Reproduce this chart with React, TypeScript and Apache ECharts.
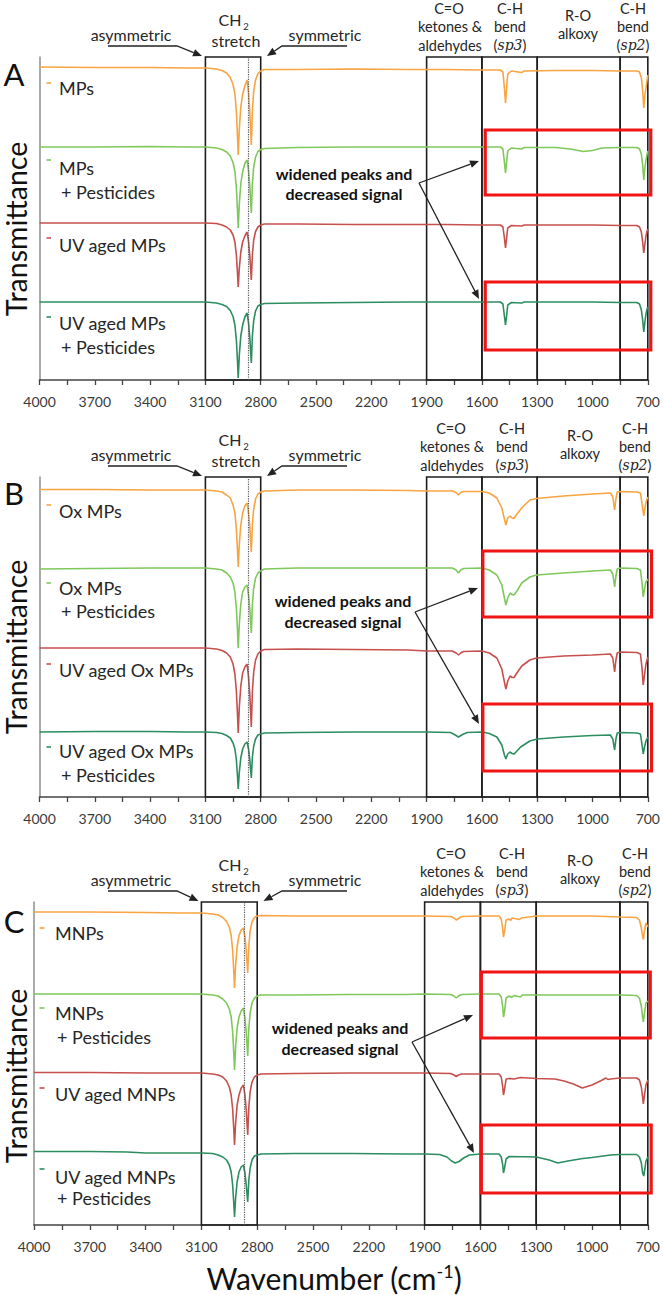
import { useEffect, useRef } from 'react';
import * as echarts from 'echarts';

const FONT = 'Lato, "Open Sans", "DejaVu Sans", sans-serif';

// Wavenumber axis (cm-1), drawn from high to low
const wnMin = 700;
const wnMax = 4000;
const wnTickStep = 150;
const wnLabelStep = 300;

// Band regions boxed on every panel
const ch2Band = [3100, 2800];
const ch2Divider = 2870;
const rightBands = [[1900, 1600], [1600, 1300], [1300, 850], [850, 700]];

const sampleColors = ['#F9A442', '#7FC85B', '#C6504D', '#2C8E60'];

const samplesA = ['MPs', 'MPs + Pesticides', 'UV aged MPs', 'UV aged MPs + Pesticides'];
const samplesB = ['Ox MPs', 'Ox MPs + Pesticides', 'UV aged Ox MPs', 'UV aged Ox MPs + Pesticides'];
const samplesC = ['MNPs', 'MNPs + Pesticides', 'UV aged MNPs', 'UV aged MNPs + Pesticides'];

// Offset transmittance (a.u.), pairs of [wavenumber, value]
const mpsA = [
  [4000, 313], [3700, 312.5], [3400, 312.5], [3200, 312],
  [3100, 312], [3040, 311], [3010, 309.5], [2985, 307], [2965, 302.5], [2950, 295.5], [2940, 286], [2932, 268.5], [2926, 244], [2922, 225], [2916, 251], [2908, 273], [2898, 286], [2886, 294], [2874, 300], [2866, 287], [2859, 268], [2851, 235], [2845, 270], [2838, 289], [2828, 300], [2815, 306.5], [2800, 309], [2780, 310.5],
  [2600, 310.5], [2300, 311], [2000, 310.5], [1800, 310.5], [1600, 310], [1500, 310], [1486, 308], [1478, 292], [1472, 277], [1466, 292], [1460, 306], [1440, 309], [1385, 307.5], [1370, 309], [1200, 309.5], [1000, 309.5], [850, 309], [760, 309], [745, 308], [735, 302], [728, 290], [722, 272], [716, 285], [710, 292], [704, 300], [700, 305],
];
const mpsPestA = [
  [4000, 233], [3700, 233], [3400, 233.5], [3200, 233],
  [3100, 233], [3040, 232], [3010, 230.5], [2985, 228], [2965, 224], [2950, 217.5], [2940, 208.5], [2932, 192.5], [2926, 170], [2922, 152], [2916, 176], [2908, 196.5], [2898, 208.5], [2886, 216.5], [2874, 220], [2866, 209.5], [2859, 193.5], [2851, 167], [2845, 196.5], [2838, 213], [2828, 223], [2815, 228.5], [2800, 230.5], [2780, 231.5],
  [2600, 232.5], [2300, 233], [2000, 233], [1800, 233], [1600, 233], [1500, 233], [1486, 231], [1478, 218], [1472, 207], [1466, 218], [1460, 229], [1440, 232], [1385, 231], [1370, 232.5], [1200, 232.5], [1120, 231], [1050, 228.5], [1000, 229.5], [950, 232], [850, 232.5], [760, 232.5], [745, 231], [735, 226], [728, 215], [722, 200], [716, 212], [710, 220], [704, 226], [700, 229],
];
const uvMpsA = [
  [4000, 157], [3700, 157], [3400, 157], [3200, 157],
  [3100, 157], [3040, 156.5], [3010, 155], [2985, 153], [2965, 150], [2950, 145], [2940, 138], [2932, 125], [2926, 107], [2922, 93], [2916, 112], [2908, 128], [2898, 138], [2886, 144], [2874, 148], [2866, 138.5], [2859, 124], [2851, 100], [2845, 125.5], [2838, 140], [2828, 148.5], [2815, 153], [2800, 155], [2780, 156],
  [2600, 156], [2300, 155.5], [2000, 155.5], [1800, 155.5], [1600, 155], [1500, 155], [1486, 153], [1478, 142], [1472, 132], [1466, 142], [1460, 152], [1440, 154.5], [1385, 154], [1370, 155], [1000, 155], [850, 154.5], [760, 154.5], [745, 153], [735, 148], [728, 138], [722, 127], [716, 136], [710, 144], [704, 149], [700, 151],
];
const uvMpsPestA = [
  [4000, 78], [3700, 78], [3400, 78], [3200, 78],
  [3100, 78], [3040, 77], [3010, 75.5], [2985, 73.5], [2965, 69.5], [2950, 63.5], [2940, 55], [2932, 40], [2926, 19], [2922, 2], [2916, 25], [2908, 44], [2898, 55], [2886, 63], [2874, 67], [2866, 57], [2859, 42], [2851, 17], [2845, 44.5], [2838, 59.5], [2828, 69], [2815, 74], [2800, 75.5], [2780, 76.5],
  [2600, 77], [2300, 77.5], [2000, 78], [1800, 78], [1600, 78], [1500, 78], [1486, 76], [1478, 64], [1472, 55], [1466, 64], [1460, 75], [1440, 77.5], [1385, 77], [1370, 78], [1000, 78], [850, 77.5], [760, 77.5], [745, 76], [735, 70], [728, 60], [722, 48], [716, 58], [710, 66], [704, 71], [700, 73],
];

const oxB = [
  [4000, 307.5], [3700, 307.5], [3400, 307], [3200, 307],
  [3100, 307], [3040, 306], [3010, 305], [2985, 302], [2965, 299], [2950, 292], [2940, 284], [2932, 268], [2926, 247], [2922, 230], [2916, 253], [2908, 272], [2898, 284], [2886, 291], [2874, 294], [2866, 284], [2859, 270], [2851, 245], [2845, 273], [2838, 288], [2828, 298], [2815, 303], [2800, 305], [2780, 306],
  [2600, 307], [2300, 307], [2000, 306.5], [1900, 306], [1760, 306], [1740, 304.5], [1727, 302], [1715, 304.5], [1700, 305.5], [1600, 305.5], [1560, 304], [1519, 299], [1492, 289], [1478, 278], [1470, 272], [1460, 279], [1447, 281], [1436, 279], [1426, 278.5], [1410, 283], [1384, 289], [1340, 297], [1304, 298.5], [1157, 301], [1000, 303], [903, 304], [890, 300], [880, 287], [873, 298], [866, 305], [850, 305.5], [760, 305], [740, 304], [732, 294], [722, 281], [715, 290], [708, 296], [700, 300],
];
const oxPestB = [
  [4000, 228], [3700, 228.5], [3400, 229], [3200, 229],
  [3100, 229], [3040, 228], [3010, 227], [2985, 224], [2965, 220], [2950, 214], [2940, 205], [2932, 189], [2926, 167], [2922, 149], [2916, 173], [2908, 193], [2898, 205], [2886, 210], [2874, 212], [2866, 202], [2859, 188], [2851, 164], [2845, 193], [2838, 209], [2828, 219], [2815, 224], [2800, 226], [2780, 228],
  [2600, 229], [2300, 229], [2000, 229], [1900, 229], [1760, 229], [1740, 227], [1727, 224], [1715, 227], [1700, 228.5], [1600, 229], [1560, 227], [1519, 222], [1492, 212], [1478, 199], [1470, 192], [1460, 199], [1447, 204], [1436, 202.5], [1426, 202], [1410, 206], [1384, 214], [1340, 220], [1304, 222], [1157, 224], [1000, 226], [903, 227], [890, 223], [880, 210], [873, 221], [866, 228], [850, 229], [760, 228.5], [740, 227], [732, 215], [725, 200], [718, 208], [710, 215], [700, 218],
];
const uvOxB = [
  [4000, 149], [3700, 149], [3400, 149], [3200, 149],
  [3100, 149], [3040, 148], [3010, 146.5], [2985, 144], [2965, 140], [2950, 133], [2940, 123], [2932, 106], [2926, 83], [2922, 64], [2916, 90], [2908, 111], [2898, 124], [2886, 130], [2874, 133], [2866, 120], [2859, 102], [2851, 70], [2845, 106], [2838, 125], [2828, 137], [2815, 143], [2800, 146], [2780, 147.5],
  [2600, 148], [2300, 147.5], [2000, 147], [1900, 146], [1760, 146], [1740, 144], [1727, 142], [1715, 144], [1700, 145.5], [1600, 146], [1560, 144], [1519, 139], [1492, 128], [1478, 115], [1470, 108], [1460, 116], [1447, 121], [1436, 119.5], [1426, 119.5], [1410, 124], [1384, 131], [1340, 137], [1304, 139], [1157, 141], [1000, 142], [903, 143], [890, 139], [880, 125], [873, 137], [866, 144], [850, 145], [760, 144.5], [740, 143], [732, 130], [725, 112], [718, 122], [710, 133], [700, 140],
];
const uvOxPestB = [
  [4000, 65], [3700, 65.5], [3400, 65.5], [3200, 65],
  [3100, 65], [3040, 64.5], [3010, 63.5], [2985, 61.5], [2965, 59], [2950, 54], [2940, 48], [2932, 37], [2926, 21], [2922, 8], [2916, 25], [2908, 39], [2898, 48], [2886, 53], [2874, 55], [2866, 48], [2859, 37], [2851, 19], [2845, 40], [2838, 51], [2828, 58], [2815, 62], [2800, 63], [2780, 64],
  [2600, 64.5], [2300, 65], [2000, 65], [1900, 65], [1770, 64.5], [1745, 62], [1727, 60], [1705, 62.5], [1680, 64.5], [1600, 65], [1560, 63.5], [1519, 60], [1492, 52], [1478, 42], [1470, 38], [1460, 43], [1448, 45], [1436, 43.5], [1425, 43], [1410, 46], [1390, 50], [1340, 56], [1300, 58], [1157, 60], [1000, 61.5], [903, 62], [890, 58], [880, 47], [873, 58], [866, 64], [850, 64.5], [760, 64], [740, 63], [732, 53], [725, 43], [718, 50], [710, 56], [700, 60],
];

const mnpsC = [
  [4000, 313], [3700, 313], [3400, 312.5], [3200, 312],
  [3100, 312], [3040, 311], [3010, 310], [2985, 307.5], [2965, 303.5], [2950, 298], [2940, 289.5], [2932, 274.5], [2926, 253.5], [2922, 237], [2916, 259.5], [2908, 278], [2898, 289.5], [2886, 295], [2874, 297], [2866, 288], [2859, 274.5], [2851, 252], [2845, 279], [2838, 294], [2828, 303], [2815, 307.5], [2800, 309], [2780, 309.5],
  [2600, 309], [2300, 309], [2000, 309], [1900, 309], [1760, 308.5], [1742, 307], [1730, 305], [1718, 306.5], [1700, 308.5], [1600, 309], [1500, 309], [1488, 306], [1480, 296], [1476, 288], [1470, 294], [1462, 305], [1445, 306], [1438, 304.5], [1430, 307], [1390, 305.5], [1380, 307], [1300, 309], [1000, 309], [850, 308], [760, 307.5], [745, 305], [735, 297], [728, 289], [724, 285.5], [718, 294], [710, 302], [700, 298],
];
const mnpsPestC = [
  [4000, 231], [3700, 231], [3400, 231], [3200, 231],
  [3100, 231], [3040, 230], [3010, 229], [2985, 226], [2965, 222], [2950, 216], [2940, 208], [2932, 193], [2926, 172], [2922, 155], [2916, 178], [2908, 197], [2898, 208], [2886, 214], [2874, 217], [2866, 207], [2859, 193], [2851, 169], [2845, 197], [2838, 212], [2828, 222], [2815, 227], [2800, 229], [2780, 230],
  [2600, 230], [2300, 230.5], [2000, 230.5], [1900, 231], [1760, 230.5], [1742, 229], [1730, 227], [1718, 229], [1700, 230.5], [1600, 231], [1500, 231], [1488, 228], [1480, 218], [1476, 208], [1470, 214], [1462, 227], [1445, 229], [1432, 227.5], [1420, 229.5], [1385, 228], [1375, 230], [1300, 230], [1000, 230], [850, 230], [760, 229.5], [745, 227], [735, 219], [728, 208], [724, 203], [718, 212], [710, 222], [700, 224],
];
const uvMnpsC = [
  [4000, 152.5], [3700, 152.5], [3400, 152], [3200, 152],
  [3100, 152], [3040, 151], [3010, 150], [2985, 148], [2965, 144], [2950, 138], [2940, 130], [2932, 116], [2926, 96], [2922, 80], [2916, 102], [2908, 120], [2898, 130], [2886, 137], [2874, 140], [2866, 130], [2859, 115], [2851, 90], [2845, 118], [2838, 133], [2828, 143], [2815, 148], [2800, 150], [2780, 151],
  [2600, 151.5], [2300, 152], [2000, 152], [1900, 152], [1760, 151.5], [1742, 150], [1730, 148.5], [1718, 150], [1700, 151], [1600, 151], [1500, 151], [1488, 148], [1480, 138], [1476, 130], [1470, 136], [1462, 146], [1440, 146.5], [1420, 146], [1385, 147.5], [1300, 146.5], [1200, 146], [1150, 144], [1100, 141], [1052, 137], [1000, 140], [950, 144.5], [925, 147], [915, 145.5], [900, 146], [850, 147], [760, 147], [745, 145], [735, 138], [728, 128], [724, 121], [718, 130], [710, 140], [700, 145],
];
const uvMnpsPestC = [
  [4000, 73.5], [3700, 73.5], [3500, 73], [3400, 72], [3200, 72],
  [3100, 72], [3040, 71.5], [3010, 70], [2985, 68], [2965, 65], [2950, 60], [2940, 53], [2932, 40], [2926, 22], [2922, 8], [2916, 27], [2908, 43], [2898, 53], [2886, 58], [2874, 60], [2866, 52], [2859, 40], [2851, 23], [2845, 45], [2838, 57], [2828, 65], [2815, 69], [2800, 70], [2780, 71],
  [2600, 71.5], [2300, 71.5], [2000, 71], [1900, 71], [1820, 70.5], [1780, 68], [1755, 64], [1735, 62], [1715, 63.5], [1690, 67], [1660, 70], [1600, 71], [1500, 71], [1488, 68], [1480, 60], [1476, 52], [1470, 57], [1462, 66], [1445, 68.5], [1300, 68], [1230, 65], [1184, 62], [1130, 64], [1050, 66.5], [1000, 67.5], [900, 70], [850, 70.5], [760, 70.5], [745, 68], [735, 62], [728, 52], [722, 49], [716, 56], [710, 64], [700, 68],
];

// Panel layout: grid placement and annotation positions (pixels)
const panels = [
  {
    letter: 'A', samples: samplesA, traces: [mpsA, mpsPestA, uvMpsA, uvMpsPestA],
    grid: { left: 39.5, right: 15, top: 57, height: 323 },
    letterY: 74, transY: 229, dy: 0, tx: 0, rx: 0,
    labelX: 59, dashX: 46.5, dashW: 4.5,
    labelY: [[88], [168, 192], [245], [323, 347]], dashY: [83, 160, 238, 317],
    noteX: 344, noteY: [173, 193], vertex: [419, 183], tips: [[479, 161], [479, 299]],
    boxes: [[1582, 250, 684, 185], [1582, 98, 684, 30]],
  },
  {
    letter: 'B', samples: samplesB, traces: [oxB, oxPestB, uvOxB, uvOxPestB],
    grid: { left: 39.5, right: 15, top: 477, height: 320 },
    letterY: 493, transY: 647, dy: 420, tx: 0, rx: 2,
    labelX: 59, dashX: 46.5, dashW: 4.5,
    labelY: [[511], [588, 611], [670], [751, 775]], dashY: [505, 583, 664, 747],
    noteX: 343, noteY: [600, 621], vertex: [415, 612], tips: [[478, 588], [479, 724]],
    boxes: [[1595, 246, 680, 180], [1595, 93, 680, 26]],
  },
  {
    letter: 'C', samples: samplesC, traces: [mnpsC, mnpsPestC, uvMnpsC, uvMnpsPestC],
    grid: { left: 34, right: 13.7, top: 902, height: 323 },
    letterY: 921, transY: 1076, dy: 845, tx: -3.5, rx: 2,
    labelX: 55, dashX: 39.5, dashW: 5,
    labelY: [[933], [1013, 1037], [1094], [1177, 1198]], dashY: [928, 1008, 1088, 1169],
    noteX: 340, noteY: [1027, 1048], vertex: [412, 1042], tips: [[473, 1015], [474, 1153]],
    boxes: [[1595, 253, 687, 187], [1595, 100, 682, 32]],
  },
];

const INK = '#262626';

function txt(text: string, x: number, y: number, size: number, extra: any = {}) {
  return {
    type: 'text', x, y, silent: true, z: 20,
    style: {
      text, fill: INK, fontSize: size, fontFamily: FONT,
      align: 'center', verticalAlign: 'middle', textAlign: 'center', textVerticalAlign: 'middle',
      ...extra,
    },
  };
}

function arrow(pts: number[][], color = '#222') {
  const n = pts.length;
  const [tx, ty] = pts[n - 1];
  const [px, py] = pts[n - 2];
  const len = Math.hypot(tx - px, ty - py);
  const ux = (tx - px) / len;
  const uy = (ty - py) / len;
  const L = 9;
  const W = 3.8;
  const bx = tx - ux * L;
  const by = ty - uy * L;
  return [
    {
      type: 'polyline', silent: true, z: 20,
      shape: { points: pts.slice(0, n - 1).concat([[bx, by]]) },
      style: { stroke: color, lineWidth: 1.3, fill: 'none' },
    },
    {
      type: 'polygon', silent: true, z: 20,
      shape: { points: [[tx, ty], [bx - uy * W, by + ux * W], [bx + uy * W, by - ux * W]] },
      style: { fill: color },
    },
  ];
}

function bendLabel(inner: string, x: number, y: number) {
  return {
    type: 'text', x, y, silent: true, z: 20,
    style: {
      text: '{n|(}{i|' + inner + '}{n|)}',
      align: 'center', verticalAlign: 'middle', textAlign: 'center', textVerticalAlign: 'middle',
      rich: {
        n: { fontFamily: FONT, fontSize: 14.5, fill: INK, color: INK },
        i: { fontFamily: '"DejaVu Serif", "Liberation Serif", serif', fontStyle: 'italic', fontSize: 14, fill: INK, color: INK },
      },
    },
  };
}

function buildOption() {
  const grid = panels.map((p) => ({ ...p.grid, containLabel: false }));
  const xAxis = panels.map((_, i) => ({
    type: 'value', gridIndex: i, inverse: true, min: wnMin, max: wnMax, interval: wnTickStep,
    axisLine: { onZero: false, lineStyle: { color: '#444', width: 1.6 } },
    axisTick: { show: true, length: 5, lineStyle: { color: '#444', width: 1.3 } },
    axisLabel: {
      showMinLabel: true, showMaxLabel: true, margin: 14, fontSize: 14, fontFamily: FONT, color: '#3a3a3a',
      formatter: (v: number) => ((v - wnMin) % wnLabelStep === 0 ? String(v) : ''),
    },
    splitLine: { show: false },
  }));
  const yAxis = panels.map((p, i) => ({
    type: 'value', gridIndex: i, min: 0, max: p.grid.height,
    axisLine: { show: true, onZero: false, lineStyle: { color: '#8e8e8e', width: 1.5 } },
    axisTick: { show: false }, axisLabel: { show: false }, splitLine: { show: false },
  }));
  const series: any[] = [];
  panels.forEach((p, i) => {
    p.traces.forEach((data, j) => {
      const s: any = {
        type: 'line', name: p.samples[j], xAxisIndex: i, yAxisIndex: i, data,
        symbol: 'none', showSymbol: false, silent: true, z: 3,
        lineStyle: { color: sampleColors[j], width: 1.6 },
        itemStyle: { color: sampleColors[j] },
      };
      if (j === 0) {
        s.markArea = {
          silent: true, label: { show: false },
          itemStyle: { color: 'rgba(0,0,0,0)', borderColor: '#1e1e1e', borderWidth: 1.6 },
          data: [[{ xAxis: ch2Band[0] }, { xAxis: ch2Band[1] }]].concat(
            rightBands.map((b) => [{ xAxis: b[0] }, { xAxis: b[1] }])
          ),
        };
        s.markLine = {
          silent: true, symbol: ['none', 'none'], label: { show: false },
          lineStyle: { color: '#555', type: 'dotted', width: 1.2 },
          data: [{ xAxis: ch2Divider }],
        };
      }
      series.push(s);
    });
  });
  return { animation: false, backgroundColor: '#fff', grid, xAxis, yAxis, series };
}

function buildGraphics(chart: any) {
  const g: any[] = [];
  panels.forEach((p, i) => {
    const dy = p.dy;
    g.push(txt(p.letter, 14, p.letterY, 31, { fill: '#111' }));
    g.push({ ...txt('Transmittance', 16, p.transY, 28.5, { fill: '#111' }), rotation: Math.PI / 2 });

    // CH2 stretch header
    g.push(txt('asymmetric', 131, 34 + dy, 16));
    g.push(...arrow([[108, 46 + dy], [177, 46 + dy], [202 + p.tx, 56 + dy]]));
    g.push(txt('CH', 230, 19.5 + dy, 16));
    g.push(txt('2', 246, 26.5 + dy, 9.5));
    g.push(txt('stretch', 236, 40.5 + dy, 16));
    g.push(txt('symmetric', 325, 34 + dy, 16));
    g.push(...arrow([[347, 46 + dy], [282, 46 + dy], [267 + p.tx, 56 + dy]]));

    // right-hand band headers
    const rx = p.rx;
    g.push(txt('C=O', 449 + rx, 8 + dy, 14.5));
    g.push(txt('ketones &', 450 + rx, 26 + dy, 14.5));
    g.push(txt('aldehydes', 450 + rx, 45 + dy, 14.5));
    g.push(txt('C-H', 510 + rx, 8 + dy, 14.5));
    g.push(txt('bend', 510 + rx, 26 + dy, 14.5));
    g.push(bendLabel('sp3', 510 + rx, 45 + dy));
    g.push(txt('R-O', 578 + rx, 15 + dy, 14.5));
    g.push(txt('alkoxy', 578 + rx, 33 + dy, 14.5));
    g.push(txt('C-H', 633 + rx, 8 + dy, 14.5));
    g.push(txt('bend', 633 + rx, 26 + dy, 14.5));
    g.push(bendLabel('sp2', 633 + rx, 45 + dy));

    // sample labels with colour ticks
    p.samples.forEach((name, j) => {
      const lines = name.includes(' + ') ? [name.split(' + ')[0], '+ ' + name.split(' + ')[1]] : [name];
      lines.forEach((ln, k) => {
        g.push(txt(ln, p.labelX + (k ? 2 : 0), p.labelY[j][k], 18, { align: 'left', textAlign: 'left' }));
      });
      g.push({
        type: 'rect', silent: true, z: 20,
        shape: { x: p.dashX, y: p.dashY[j] - 0.8, width: p.dashW, height: 1.6 },
        style: { fill: sampleColors[j] },
      });
    });

    // highlighted regions
    p.boxes.forEach((b) => {
      const a = chart.convertToPixel({ gridIndex: i }, [b[0], b[1]]);
      const c = chart.convertToPixel({ gridIndex: i }, [b[2], b[3]]);
      g.push({
        type: 'rect', silent: true, z: 25,
        shape: { x: a[0], y: a[1], width: c[0] - a[0], height: c[1] - a[1] },
        style: { stroke: '#F01414', lineWidth: 3.2, fill: 'none' },
      });
    });

    // note with two arrows
    g.push(txt('widened peaks and', p.noteX, p.noteY[0], 16, { fontWeight: 'bold', fill: '#111' }));
    g.push(txt('decreased signal', p.noteX, p.noteY[1], 16, { fontWeight: 'bold', fill: '#111' }));
    p.tips.forEach((t) => g.push(...arrow([p.vertex, t])));
  });

  g.push({
    type: 'text', x: 334, y: 1277, silent: true, z: 20,
    style: {
      text: '{a|Wavenumber (cm}{s|-1}{a|)}',
      align: 'center', verticalAlign: 'middle', textAlign: 'center', textVerticalAlign: 'middle',
      rich: {
        a: { fontFamily: FONT, fontSize: 30, fill: '#111', color: '#111', lineHeight: 31, verticalAlign: 'bottom' },
        s: { fontFamily: FONT, fontSize: 18, fill: '#111', color: '#111', lineHeight: 31, verticalAlign: 'top' },
      },
    },
  });
  return g;
}

export default function App() {
  const ref = useRef<HTMLDivElement>(null);
  useEffect(() => {
    if (!ref.current) return;
    const chart = echarts.init(ref.current, null, { renderer: 'svg' });
    chart.setOption(buildOption());
    chart.setOption({ graphic: buildGraphics(chart) });
    return () => chart.dispose();
  }, []);
  return (
    <div
      ref={ref}
      style={{ position: 'absolute', left: 0, top: 0, width: 663, height: 1295, background: '#fff' }}
    />
  );
}
